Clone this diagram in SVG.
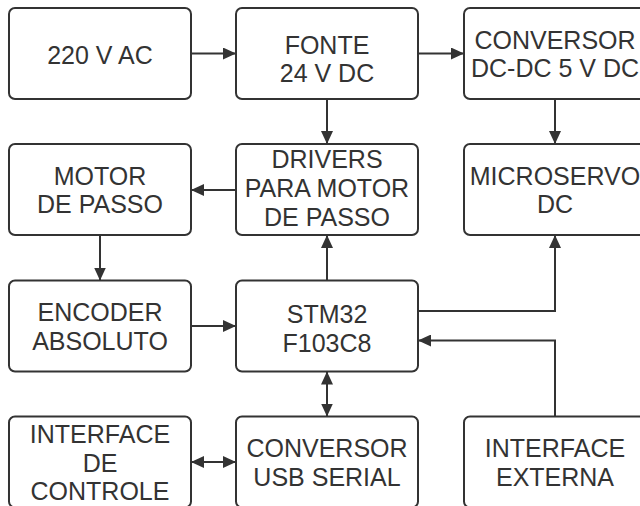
<svg xmlns="http://www.w3.org/2000/svg" width="640" height="506" viewBox="0 0 640 506">
  <style>
    .box { fill: #ffffff; stroke: #333333; stroke-width: 2; }
    .lbl { font-family: "Liberation Sans", Arial, sans-serif; font-size: 25px; fill: #333333; text-anchor: middle; }
    .wire { fill: none; stroke: #333333; stroke-width: 2; }
    .one { marker-end: url(#head); }
    .two { marker-start: url(#head); marker-end: url(#head); }
  </style>
  <defs>
    <marker id="head" viewBox="0 0 13 12" refX="13" refY="6" markerWidth="13" markerHeight="12" markerUnits="userSpaceOnUse" orient="auto-start-reverse">
      <path d="M0,0 L13,6 L0,12 Z" fill="#333333"/>
    </marker>
  </defs>
  <rect width="640" height="506" fill="#ffffff"/>

  <!-- connectors -->
  <g id="connectors">
    <path class="wire one" d="M191,53.5 H236"/>
    <path class="wire one" d="M418,53.5 H464"/>
    <path class="wire one" d="M327,99 V144"/>
    <path class="wire one" d="M555,99 V144"/>
    <path class="wire one" d="M236,190 H191"/>
    <path class="wire one" d="M100,235 V280.5"/>
    <path class="wire one" d="M191,326 H236"/>
    <path class="wire one" d="M327,280.5 V235"/>
    <path class="wire one" d="M418,311 H555 V235"/>
    <path class="wire one" d="M555,416.5 V340.5 H418"/>
    <path class="wire two" d="M327,371.5 V416.5"/>
    <path class="wire two" d="M191,462 H236"/>
  </g>

  <!-- row 1 -->
  <g id="ac220">
    <rect class="box" x="9" y="8" width="182" height="91" rx="6"/>
    <text class="lbl" x="100" y="63.5">220 V AC</text>
  </g>
  <g id="fonte">
    <rect class="box" x="236" y="8" width="182" height="91" rx="6"/>
    <text class="lbl" x="327" y="53.5">FONTE</text>
    <text class="lbl" x="327" y="81.5">24 V DC</text>
  </g>
  <g id="conversor-dcdc">
    <rect class="box" x="464" y="8" width="182" height="91" rx="6"/>
    <text class="lbl" x="555" y="48.5">CONVERSOR</text>
    <text class="lbl" x="555" y="77">DC-DC 5 V DC</text>
  </g>

  <!-- row 2 -->
  <g id="motor">
    <rect class="box" x="9" y="144" width="182" height="91" rx="6"/>
    <text class="lbl" x="100" y="185">MOTOR</text>
    <text class="lbl" x="100" y="213">DE PASSO</text>
  </g>
  <g id="drivers">
    <rect class="box" x="236" y="144" width="182" height="91" rx="6"/>
    <text class="lbl" x="327" y="168">DRIVERS</text>
    <text class="lbl" x="327" y="197">PARA MOTOR</text>
    <text class="lbl" x="327" y="226">DE PASSO</text>
  </g>
  <g id="microservo">
    <rect class="box" x="464" y="144" width="182" height="91" rx="6"/>
    <text class="lbl" x="555" y="185">MICROSERVO</text>
    <text class="lbl" x="555" y="213">DC</text>
  </g>

  <!-- row 3 -->
  <g id="encoder">
    <rect class="box" x="9" y="280.5" width="182" height="91" rx="6"/>
    <text class="lbl" x="100" y="321">ENCODER</text>
    <text class="lbl" x="100" y="349.5">ABSOLUTO</text>
  </g>
  <g id="stm32">
    <rect class="box" x="236" y="280.5" width="182" height="91" rx="6"/>
    <text class="lbl" x="327" y="323">STM32</text>
    <text class="lbl" x="327" y="351.5">F103C8</text>
  </g>

  <!-- row 4 -->
  <g id="interface-controle">
    <rect class="box" x="9" y="416.5" width="182" height="91" rx="6"/>
    <text class="lbl" x="100" y="442.5">INTERFACE</text>
    <text class="lbl" x="100" y="471.5">DE</text>
    <text class="lbl" x="100" y="500">CONTROLE</text>
  </g>
  <g id="conversor-usb">
    <rect class="box" x="236" y="416.5" width="182" height="91" rx="6"/>
    <text class="lbl" x="327" y="456.5">CONVERSOR</text>
    <text class="lbl" x="327" y="485.5">USB SERIAL</text>
  </g>
  <g id="interface-externa">
    <rect class="box" x="464" y="416.5" width="182" height="91" rx="6"/>
    <text class="lbl" x="555" y="456.5">INTERFACE</text>
    <text class="lbl" x="555" y="485.5">EXTERNA</text>
  </g>
</svg>
